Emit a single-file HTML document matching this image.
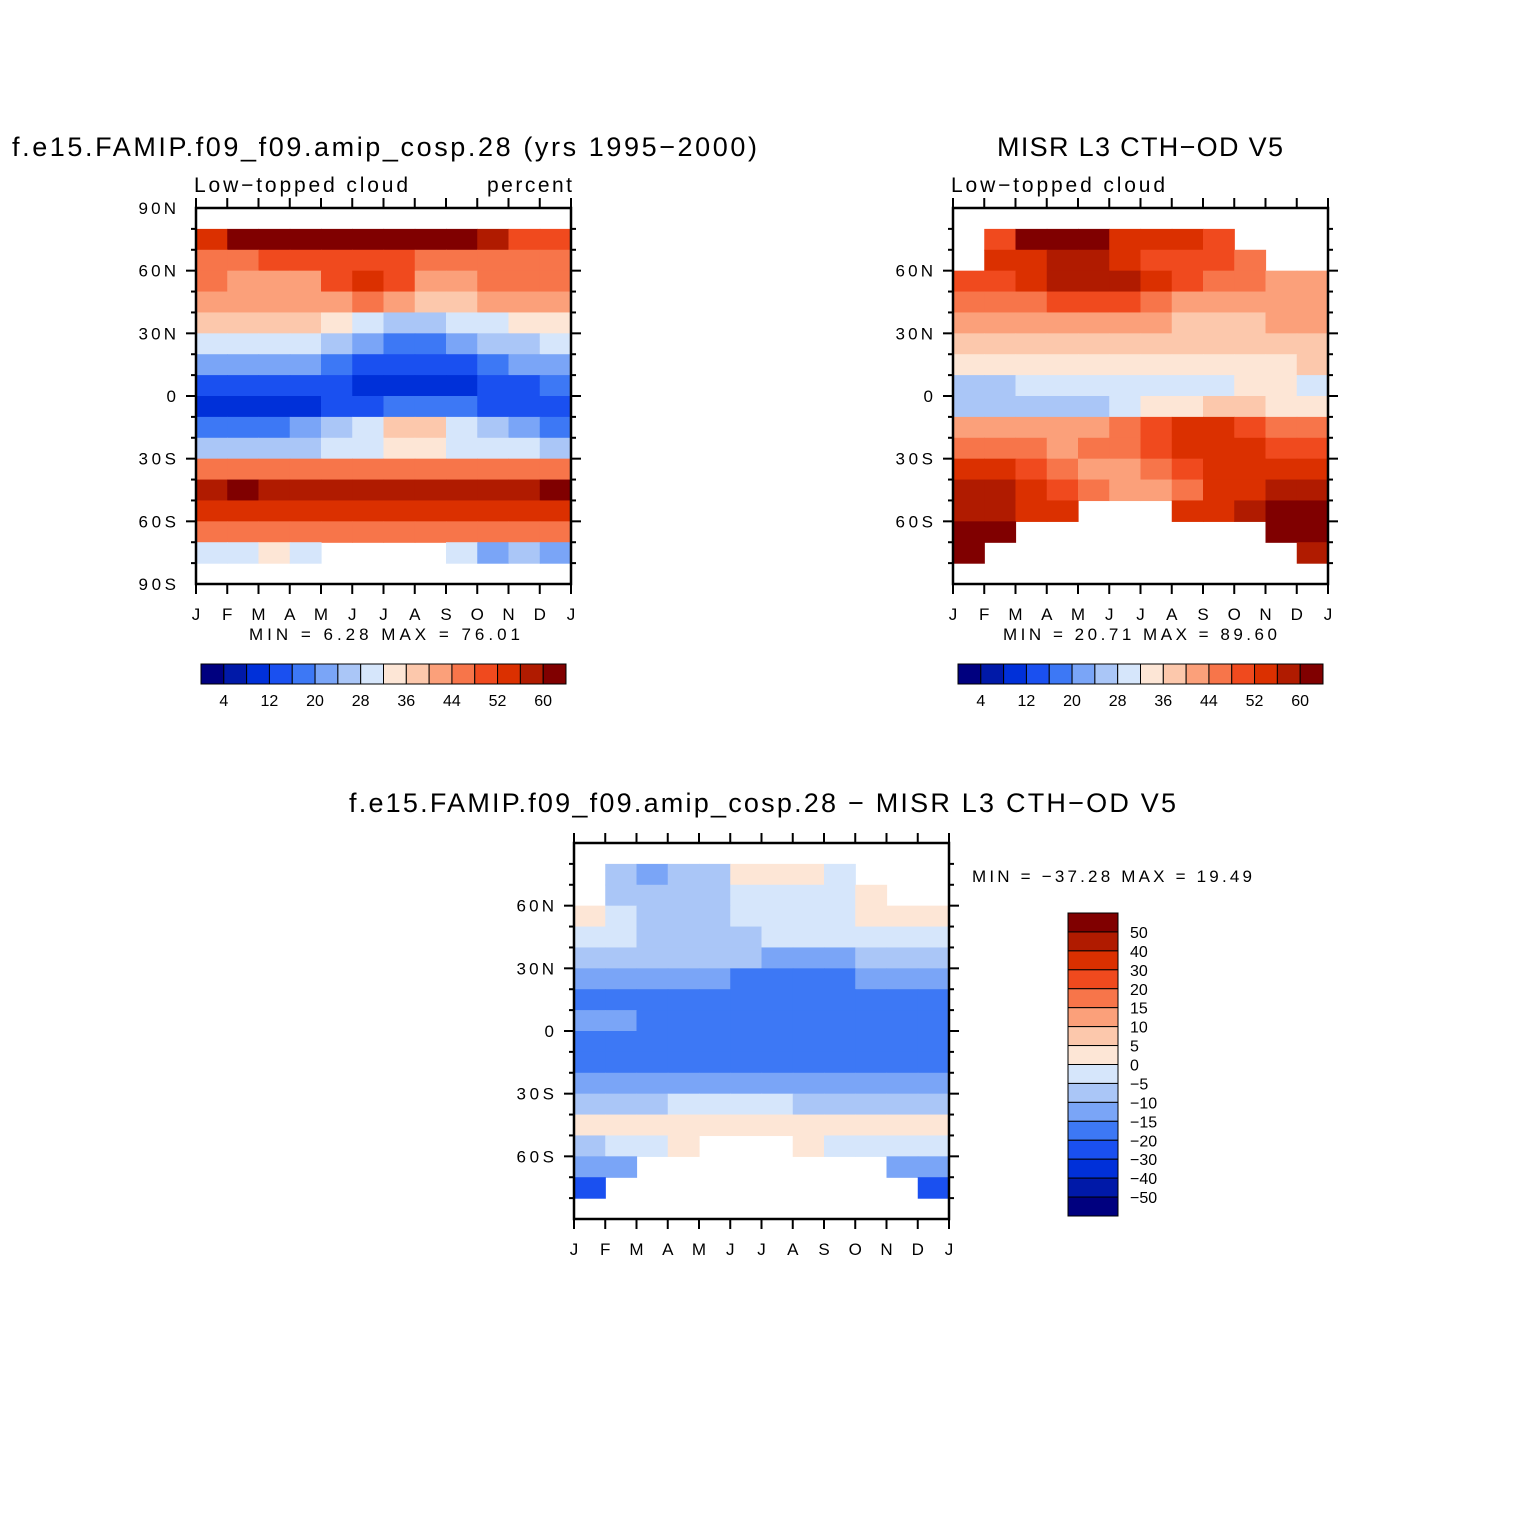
<!DOCTYPE html>
<html><head><meta charset="utf-8"><style>
body{margin:0;background:#fff}
svg{display:block;font-family:"Liberation Sans",sans-serif}
</style></head><body>
<svg id="fig" width="1524" height="1524" viewBox="0 0 1524 1524">
<rect width="1524" height="1524" fill="#fff"/>
<text x="12" y="156" font-size="27" textLength="745" lengthAdjust="spacing">f.e15.FAMIP.f09_f09.amip_cosp.28 (yrs 1995−2000)</text>
<text x="194" y="192" font-size="21" textLength="214" lengthAdjust="spacing">Low−topped cloud</text>
<text x="487" y="192" font-size="21" textLength="85" lengthAdjust="spacing">percent</text>
<text x="997" y="156" font-size="27" textLength="286" lengthAdjust="spacing">MISR L3 CTH−OD V5</text>
<text x="951" y="192" font-size="21" textLength="214" lengthAdjust="spacing">Low−topped cloud</text>
<text x="349" y="812" font-size="27" textLength="827" lengthAdjust="spacing">f.e15.FAMIP.f09_f09.amip_cosp.28 − MISR L3 CTH−OD V5</text>
<text x="249" y="640" font-size="17" textLength="271" lengthAdjust="spacing">MIN =   6.28  MAX =   76.01</text>
<text x="1003" y="640" font-size="17" textLength="274" lengthAdjust="spacing">MIN =  20.71  MAX =   89.60</text>
<text x="972" y="882" font-size="17" textLength="280" lengthAdjust="spacing">MIN = −37.28  MAX =   19.49</text>
<g id="layer"></g>
</svg>
<script>
const palette=["#00007f","#0019a8","#0030d9","#1a50f0","#3d78f5","#7aa5f7","#aac6f7","#d6e6fb","#fde6d6","#fcc8ac","#fba07a","#f7754a","#f04a1e","#db3000","#b01b00","#800000"];
const months=["J","F","M","A","M","J","J","A","S","O","N","D","J"];
const latCenters=[85,75,65,55,45,35,25,15,5,-5,-15,-25,-35,-45,-55,-65,-75,-85];
const absLevels=[4,8,12,16,20,24,28,32,36,40,44,48,52,56,60];
const absLabels=["4","12","20","28","36","44","52","60"];
const diffLevels=[-50,-40,-30,-20,-15,-10,-5,0,5,10,15,20,30,40,50];
const diffLabels=["50","40","30","20","15","10","5","0","−5","−10","−15","−20","−30","−40","−50"];
const N=null;
const modelVals=[
[N,N,N,N,N,N,N,N,N,N,N,N],
[52,64,64,64,64,64,64,64,60,56,50,50],
[46,46,48,48,50,48,48,46,46,46,46,46],
[44,42,40,42,50,54,48,40,40,44,46,46],
[42,42,40,40,42,44,40,38,38,40,42,42],
[36,36,36,36,34,30,26,26,28,30,34,34],
[28,28,28,28,24,20,18,18,20,24,26,28],
[20,20,20,20,18,14,12,12,14,18,20,20],
[14,14,14,14,12,8,8,8,10,12,14,16],
[10,8,8,10,12,14,16,16,16,14,14,12],
[18,18,18,20,24,28,36,38,30,24,20,18],
[26,26,26,26,28,30,32,32,30,28,28,26],
[44,44,44,44,44,44,46,46,46,46,44,44],
[58,62,56,56,56,56,56,56,56,56,58,60],
[54,54,54,54,54,54,54,54,54,54,54,54],
[46,46,46,46,46,46,46,46,46,46,46,46],
[30,30,32,28,N,N,N,N,28,20,24,22],
[N,N,N,N,N,N,N,N,N,N,N,N]];
const obsVals=[
[N,N,N,N,N,N,N,N,N,N,N,N],
[N,50,64,64,62,54,54,52,50,N,N,N],
[N,52,54,56,56,52,50,50,48,44,N,N],
[48,50,54,56,56,56,54,48,44,44,42,40],
[44,44,46,48,50,50,44,40,40,40,40,40],
[40,40,40,40,40,40,40,38,38,38,40,40],
[38,38,38,36,36,36,36,36,36,36,38,38],
[34,34,34,34,32,32,32,32,32,34,34,36],
[26,26,28,28,28,28,30,30,30,32,32,30],
[26,26,24,24,26,30,32,34,36,36,34,34],
[40,40,40,40,42,46,50,54,52,50,46,44],
[44,44,44,42,44,44,50,54,52,52,50,48],
[52,52,50,46,42,42,44,48,52,52,52,52],
[56,56,54,48,44,42,42,46,52,54,56,56],
[58,56,54,52,N,N,N,52,54,58,60,62],
[60,60,N,N,N,N,N,N,N,N,62,62],
[60,N,N,N,N,N,N,N,N,N,N,56],
[N,N,N,N,N,N,N,N,N,N,N,N]];
const diffVals=[
[N,N,N,N,N,N,N,N,N,N,N,N],
[N,-10,-12,-10,-8,4,4,2,-5,N,N,N],
[N,-7,-7,-7,-8,-4,-3,-3,-3,2,N,N],
[2,-5,-8,-8,-6,-4,-4,-3,-3,2,4,4],
[-3,-3,-6,-8,-8,-6,-5,-3,-3,-3,-3,-3],
[-7,-7,-7,-7,-8,-10,-14,-14,-12,-9,-7,-7],
[-12,-12,-12,-12,-14,-17,-18,-18,-17,-14,-12,-12],
[-16,-16,-16,-16,-16,-18,-18,-18,-18,-18,-16,-16],
[-14,-14,-16,-16,-16,-17,-17,-17,-17,-17,-17,-17],
[-17,-18,-17,-17,-16,-17,-17,-17,-17,-17,-17,-17],
[-19,-18,-17,-16,-16,-17,-19,-18,-18,-18,-17,-18],
[-14,-14,-14,-14,-14,-14,-14,-14,-14,-14,-14,-14],
[-7,-6,-6,-4,-3,-4,-4,-6,-6,-6,-6,-6],
[4,4,3,2,3,4,4,2,2,2,2,2],
[-6,-5,-2,2,N,N,N,2,-3,-3,-3,-3],
[-14,-14,N,N,N,N,N,N,N,N,-12,-12],
[-22,N,N,N,N,N,N,N,N,N,N,-22],
[N,N,N,N,N,N,N,N,N,N,N,N]];

const NS="http://www.w3.org/2000/svg";
const layer=document.getElementById('layer');
function mk(tag,attrs,parent){const e=document.createElementNS(NS,tag);for(const k in attrs)e.setAttribute(k,attrs[k]);(parent||layer).appendChild(e);return e;}
function colorFor(v,levels){let i=0;while(i<levels.length&&v>=levels[i])i++;return palette[i];}

function panel(name,x0,y0,w,h,vals,levels,latLabels){
  const xs=m=>x0+m*w/12;
  const ys=lat=>y0+(90-lat)*h/180;
  const g=mk('g',{});
  
  
  for(let r=0;r<vals.length;r++){for(let c=0;c<12;c++){const v=vals[r][c];if(v===null)continue;
    const la=latCenters[r];
    const rc=mk('rect',{x:xs(c),y:ys(la+5),width:xs(c+1)-xs(c)+0.6,height:ys(la-5)-ys(la+5)+0.6,fill:colorFor(v,levels)},g);
    
    }}
  const fr=mk('rect',{x:x0,y:y0,width:w,height:h,fill:'none',stroke:'#000','stroke-width':2.5},g);
  
  
  for(let lat=-80;lat<=80;lat+=10){const y=ys(lat);const maj=lat%30===0;const L=maj?10:5;
    mk('line',{x1:x0-L,y1:y,x2:x0,y2:y,stroke:'#000','stroke-width':2},g);
    mk('line',{x1:x0+w,y1:y,x2:x0+w+L,y2:y,stroke:'#000','stroke-width':2},g);}
  for(const [lat,lab] of latLabels){const t=mk('text',{x:x0-20,y:ys(lat)+6,'font-size':17,'text-anchor':'end',textLength:lab.length>1?lab.length*12.5:11,lengthAdjust:'spacing'},g);t.textContent=lab;
    
    }
  for(let m=0;m<=12;m++){const x=xs(m);
    mk('line',{x1:x,y1:y0+h,x2:x,y2:y0+h+10,stroke:'#000','stroke-width':2},g);
    mk('line',{x1:x,y1:y0,x2:x,y2:y0-10,stroke:'#000','stroke-width':2},g);
    const t=mk('text',{x:x,y:y0+h+36,'font-size':17,'text-anchor':'middle'},g);t.textContent=months[m];
    
    }
}
const full=[[90,"90N"],[60,"60N"],[30,"30N"],[0,"0"],[-30,"30S"],[-60,"60S"],[-90,"90S"]];
const inner=[[60,"60N"],[30,"30N"],[0,"0"],[-30,"30S"],[-60,"60S"]];
panel('model',196,208,375,376,modelVals,absLevels,full);
panel('obs',953,208,375,376,obsVals,absLevels,inner);
panel('diff',574,843,375,376,diffVals,diffLevels,inner);

function hbar(name,x0,y0,w,h){const bw=w/16;
  const g=mk('g',{});
  
  
  for(let i=0;i<16;i++){const r=mk('rect',{x:x0+i*bw,y:y0,width:bw,height:h,fill:palette[i],stroke:'#000','stroke-width':1},g);
    
    }
  absLabels.forEach((lab,j)=>{const t=mk('text',{x:x0+(1+2*j)*bw,y:y0+h+22,'font-size':16,'text-anchor':'middle'},g);t.textContent=lab;
    
    });}
hbar('model-colorbar',201,664,365,20);
hbar('obs-colorbar',958,664,365,20);
(function(){const x0=1068,y0=913,w=50,h=303,bh=h/16;
  const g=mk('g',{});
  
  
  for(let i=0;i<16;i++){const r=mk('rect',{x:x0,y:y0+i*bh,width:w,height:bh,fill:palette[15-i],stroke:'#000','stroke-width':1},g);
    
    }
  diffLabels.forEach((lab,j)=>{const t=mk('text',{x:x0+w+12,y:y0+(j+1)*bh+6,'font-size':16},g);t.textContent=lab;
    
    });})();
</script>
</body></html>
